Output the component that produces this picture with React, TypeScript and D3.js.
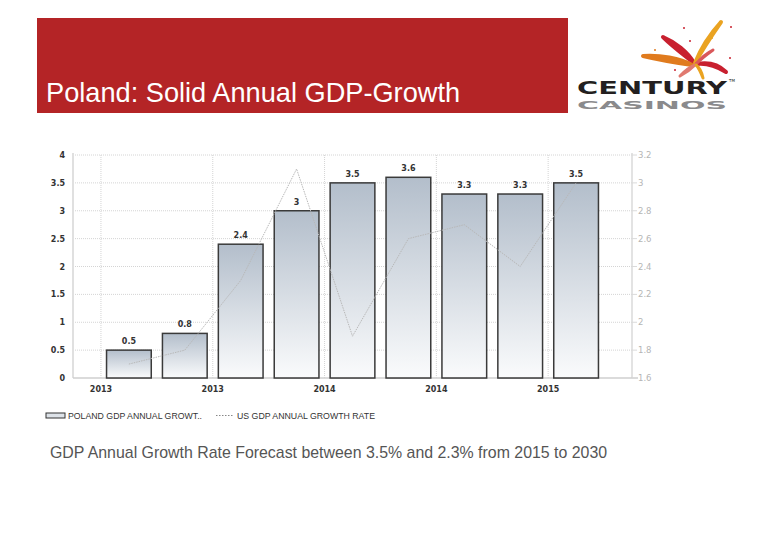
import React from "react";
import * as d3 from "d3";

const periods = ["Q1", "Q2", "Q3", "Q4", "Q5", "Q6", "Q7", "Q8", "Q9"];
const polandGdp = [0.5, 0.8, 2.4, 3, 3.5, 3.6, 3.3, 3.3, 3.5];
const usGdp = [1.7, 1.8, 2.3, 3.1, 1.9, 2.6, 2.7, 2.4, 3.0];
const xTickLabels = ["2013", "2013", "2014", "2014", "2015"];
const leftTicks = [0, 0.5, 1, 1.5, 2, 2.5, 3, 3.5, 4];
const rightTicks = [1.6, 1.8, 2, 2.2, 2.4, 2.6, 2.8, 3, 3.2];

const W = 780;
const H = 540;
const L = 73, R = 632, T = 155, B = 378;

export default function App() {
  const x = d3.scaleLinear().domain([0, 10]).range([L, R]);
  const yL = d3.scaleLinear().domain([0, 4]).range([B, T]);
  const yR = d3.scaleLinear().domain([1.6, 3.2]).range([B, T]);
  const barW = x(0.8) - x(0);
  const line = d3
    .line<number>()
    .x((_, i) => x(i + 1))
    .y((d) => yR(d));
  const fmt = (v: number) => String(+v.toFixed(1));

  return (
    <svg
      width={W}
      height={H}
      style={{ position: "absolute", left: 0, top: 0, background: "#fff" }}
      fontFamily="'Liberation Sans', Arial, sans-serif"
    >
      <defs>
        <linearGradient id="barGrad" x1="0" y1="0" x2="0" y2="1">
          <stop offset="0%" stopColor="#b3becb" />
          <stop offset="100%" stopColor="#fafbfc" />
        </linearGradient>
      </defs>
      {/* header */}
      <rect x={37} y={18} width={531} height={95} fill="#b42426" />
      <text x={46} y={102} fill="#fff" fontSize={27.2}>
        Poland: Solid Annual GDP-Growth
      </text>

      {/* logo */}
      <g>
        <path d="M663,37 C675,42 688,52 694,63 C684,55 672,46 663,37 Z" fill="#c8202f" stroke="#c8202f" strokeWidth={4} strokeLinejoin="round" />
        <path d="M721,22 C712,35 702,50 695,63 C701,48 710,34 721,22 Z" fill="#eaa321" stroke="#eaa321" strokeWidth={4} strokeLinejoin="round" />
        <path d="M643,56 C660,55 680,58 692,65 C678,63 660,60 643,56 Z" fill="#e07b1e" stroke="#e07b1e" strokeWidth={4} strokeLinejoin="round" />
        <path d="M726,72 C716,66 706,63 697,64 C708,62 718,64 726,72 Z" fill="#c8202f" stroke="#c8202f" strokeWidth={4} strokeLinejoin="round" />
        <path d="M713,50 C706,55 700,60 696,64 C701,58 707,53 713,50 Z" fill="#d9585a" stroke="#d9585a" strokeWidth={3} strokeLinejoin="round" />
        <path d="M680,76 C685,71 690,67 695,65 C691,69 686,73 680,76 Z" fill="#e07a70" stroke="#e07a70" strokeWidth={3} strokeLinejoin="round" />
        <path d="M703,78 C701,73 699,68 696,65 C700,68 702,73 703,78 Z" fill="#eaa321" stroke="#eaa321" strokeWidth={3} strokeLinejoin="round" />
        <circle cx={684} cy={28} r={1} fill="#c8202f" />
        <circle cx={731} cy={27} r={1} fill="#c8202f" />
        <circle cx={690} cy={41} r={1} fill="#c8202f" />
        <circle cx={712} cy={38} r={1} fill="#eaa321" />
        <circle cx={655} cy={50} r={1} fill="#e07b1e" />
        <circle cx={675} cy={70} r={1} fill="#c8202f" />
        <circle cx={730} cy={58} r={1} fill="#c8202f" />
        <text x={577} y={94} fontFamily="'DejaVu Sans', sans-serif" fontWeight="bold" fontSize={17} fill="#231f20" textLength={150} lengthAdjust="spacingAndGlyphs">CENTURY</text>
        <text x={729} y={82} fontFamily="'DejaVu Sans', sans-serif" fontSize={4} fill="#231f20">TM</text>
        <text x={577} y={109} fontFamily="'DejaVu Sans', sans-serif" fontWeight="bold" fontSize={11} fill="#8a8a8c" textLength={150} lengthAdjust="spacingAndGlyphs">CASINOS</text>
      </g>

      {/* grid */}
      {leftTicks.slice(1).map((t) => (
        <line key={"h" + t} x1={L} x2={R} y1={yL(t)} y2={yL(t)} stroke="#d4d4d4" strokeDasharray="1,1" />
      ))}
      {xTickLabels.map((_, i) => (
        <line key={"v" + i} x1={x(0.5 + 2 * i)} x2={x(0.5 + 2 * i)} y1={T} y2={B} stroke="#d4d4d4" strokeDasharray="1,1" />
      ))}

      {/* axes */}
      <line x1={L} x2={L} y1={T - 2} y2={B} stroke="#e0e0e0" strokeWidth={2} />
      <line x1={R} x2={R} y1={T - 2} y2={B} stroke="#dadada" strokeWidth={1.5} />
      <line x1={L} x2={R + 6} y1={B} y2={B} stroke="#cfcfcf" strokeWidth={1.5} />
      {rightTicks.map((t) => (
        <line key={"rt" + t} x1={R} x2={R + 5} y1={yR(t)} y2={yR(t)} stroke="#dadada" />
      ))}

      {/* left tick labels */}
      {leftTicks.map((t) => (
        <text key={"lt" + t} x={65} y={yL(t) + 3} textAnchor="end" fontFamily="'DejaVu Sans', sans-serif" fontWeight="bold" fontSize={8} fill="#333">
          {fmt(t)}
        </text>
      ))}
      {/* right tick labels */}
      {rightTicks.map((t) => (
        <text key={"rl" + t} x={638} y={yR(t) + 3} fontFamily="'DejaVu Sans', sans-serif" fontSize={8.5} fill="#b5b5b5">
          {fmt(t)}
        </text>
      ))}
      {/* x tick labels */}
      {xTickLabels.map((l, i) => (
        <text key={"xl" + i} x={x(0.5 + 2 * i)} y={392} textAnchor="middle" fontFamily="'DejaVu Sans', sans-serif" fontWeight="bold" fontSize={8} fill="#333">
          {l}
        </text>
      ))}

      {/* bars */}
      {polandGdp.map((v, i) => (
        <g key={periods[i]}>
          <rect
            x={x(i + 1) - barW / 2}
            y={yL(v)}
            width={barW}
            height={B - yL(v)}
            fill="url(#barGrad)"
            stroke="#3a3a3a"
            strokeWidth={1.5}
          />
          <text x={x(i + 1)} y={yL(v) - 6} textAnchor="middle" fontFamily="'DejaVu Sans', sans-serif" fontWeight="bold" fontSize={8} fill="#333">
            {fmt(v)}
          </text>
        </g>
      ))}

      {/* US line */}
      <path d={line(usGdp) || ""} fill="none" stroke="#b8b8b8" strokeWidth={1} strokeDasharray="1.5,1" />

      {/* legend */}
      <rect x={46} y={413} width={19} height={5} fill="#dde2e8" stroke="#333" strokeWidth={1} />
      <text x={68} y={418.5} fontSize={8.5} fill="#333" textLength={134} lengthAdjust="spacingAndGlyphs">POLAND GDP ANNUAL GROWT..</text>
      <line x1={216} x2={234} y1={415.5} y2={415.5} stroke="#888" strokeDasharray="1.5,1.5" />
      <text x={237} y={418.5} fontSize={8.5} fill="#333" textLength={138} lengthAdjust="spacingAndGlyphs">US GDP ANNUAL GROWTH RATE</text>

      {/* subtitle */}
      <text x={50} y={458} fontSize={15.9} fill="#555">
        GDP Annual Growth Rate Forecast between 3.5% and 2.3% from 2015 to 2030
      </text>
    </svg>
  );
}
